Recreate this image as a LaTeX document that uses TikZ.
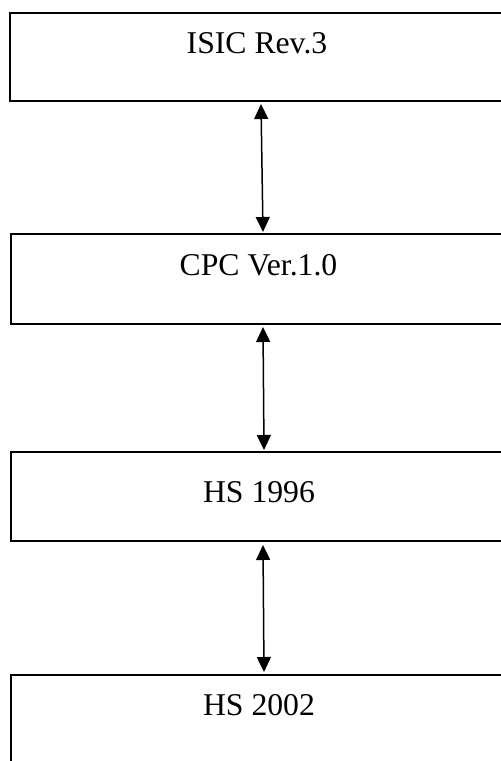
\documentclass[tikz,border=0pt]{standalone}
\usepackage{fontspec}
\setmainfont{Liberation Serif}
\usetikzlibrary{arrows.meta}
\begin{document}
\begin{tikzpicture}[x=1pt,y=-1pt,
  box/.style={draw=black,line width=2pt,minimum width=498pt,inner sep=0pt},
  lbl/.style={anchor=base,inner sep=0pt,font=\fontsize{31.7}{36}\selectfont},
  arr/.style={line width=1.5pt,{Triangle[length=15pt,width=14pt]}-{Triangle[length=15pt,width=14pt]}}]
\useasboundingbox (0,0) rectangle (501,761);
\node[box,minimum height=88pt] (b1) at (259,57) {};
\node[box,minimum height=90pt] (b2) at (259.5,279) {};
\node[box,minimum height=89pt] (b3) at (259.5,496.5) {};
\node[box,minimum height=160pt] (b4) at (260,755) {};
\node[lbl] (t1) at (257,53) {ISIC Rev.3};
\node[lbl] (t2) at (258.5,275) {CPC Ver.1.0};
\node[lbl] (t3) at (259,502) {HS 1996};
\node[lbl] (t4) at (259,715) {HS 2002};
\draw[arr] ([shift={(2,2)}]b1.south) -- ([shift={(3.5,-1)}]b2.north);
\draw[arr] ([shift={(3.5,2)}]b2.south) -- ([shift={(4.5,-1)}]b3.north);
\draw[arr] ([shift={(3.5,3)}]b3.south) -- ([shift={(4,-2)}]b4.north);
\end{tikzpicture}
\end{document}
